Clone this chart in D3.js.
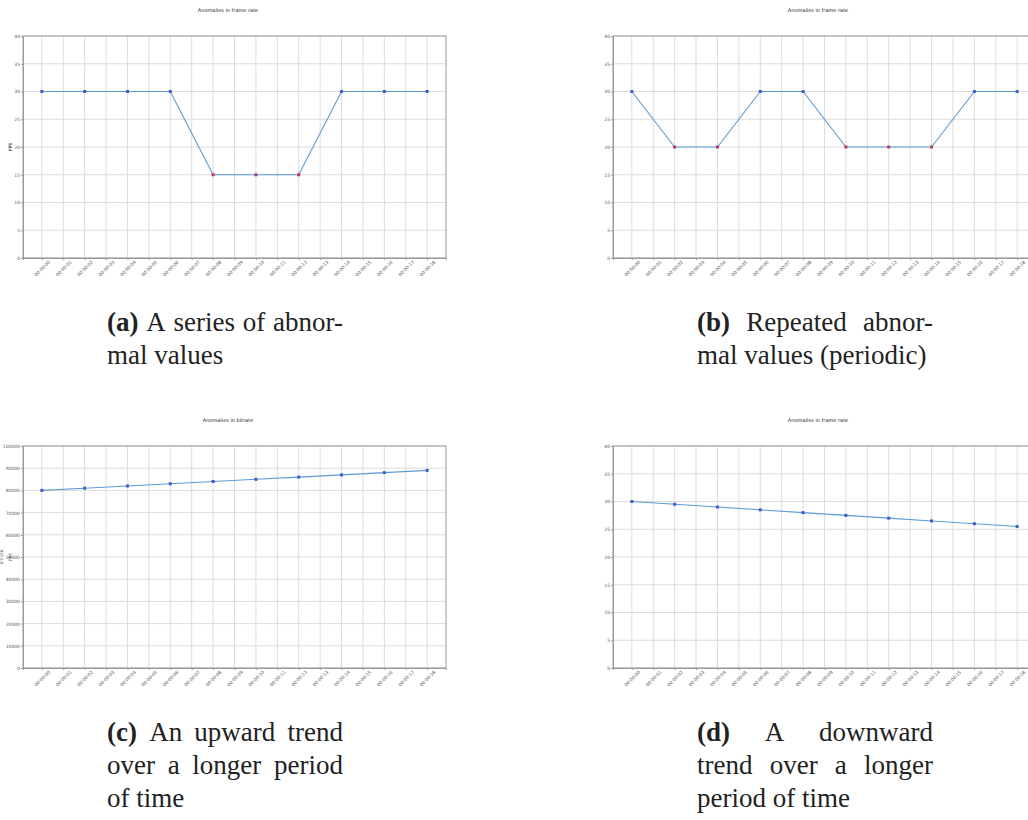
<!DOCTYPE html>
<html>
<head>
<meta charset="utf-8">
<script src="https://cdn.jsdelivr.net/npm/d3@7"></script>
<style>
  html, body { margin: 0; padding: 0; background: #fff; }
  svg { display: block; }
  .small-text { opacity: 0.995; }
</style>
</head>
<body>
<svg id="chart" width="1028" height="820"></svg>
<script>
// ---------------- DATA ----------------
const timeLabels = ["00:00:00","00:00:01","00:00:02","00:00:03","00:00:04","00:00:05","00:00:06",
  "00:00:07","00:00:08","00:00:09","00:00:10","00:00:11","00:00:12","00:00:13","00:00:14",
  "00:00:15","00:00:16","00:00:17","00:00:18"];
const sampleTimes = ["00:00:00","00:00:02","00:00:04","00:00:06","00:00:08",
  "00:00:10","00:00:12","00:00:14","00:00:16","00:00:18"];

const fpsSeriesA = [30, 30, 30, 30, 15, 15, 15, 30, 30, 30];
const anomalyA   = [0, 0, 0, 0, 1, 1, 1, 0, 0, 0];

const fpsSeriesB = [30, 20, 20, 30, 30, 20, 20, 20, 30, 30];
const anomalyB   = [0, 1, 1, 0, 0, 1, 1, 1, 0, 0];

const bitrateSeriesC = [80000, 81000, 82000, 83000, 84000, 85000, 86000, 87000, 88000, 89000];
const anomalyC       = [0, 0, 0, 0, 0, 0, 0, 0, 0, 0];

const fpsSeriesD = [30, 29.5, 29, 28.5, 28, 27.5, 27, 26.5, 26, 25.5];
const anomalyD   = [0, 0, 0, 0, 0, 0, 0, 0, 0, 0];

const fpsTicks = [0, 5, 10, 15, 20, 25, 30, 35, 40];
const bitrateTicks = [0, 10000, 20000, 30000, 40000, 50000, 60000, 70000, 80000, 90000, 100000];

const titles = ["Anomalies in frame rate", "Anomalies in frame rate", "Anomalies in bitrate", "Anomalies in frame rate"];
const yLabels = ["FPS", "FPS", "bitrate", "FPS"];

const captionA = [["(a)", "A series of abnor-"], ["", "mal values"]];
const captionB = [["(b)", "Repeated abnor-"], ["", "mal values (periodic)"]];
const captionC = [["(c)", "An upward trend"], ["", "over a longer period"], ["", "of time"]];
const captionD = [["(d)", "A downward"], ["", "trend over a longer"], ["", "period of time"]];

// ---------------- LAYOUT ----------------
const svg = d3.select("#chart");
const PW = 423, PH = 222;
const panels = [
  {left: 23,  top: 36,  values: fpsSeriesA, anomalies: anomalyA, ticks: fpsTicks, domain: [0, 40], title: titles[0], ylab: yLabels[0], ylabX: 12, caption: captionA},
  {left: 613, top: 36,  values: fpsSeriesB, anomalies: anomalyB, ticks: fpsTicks, domain: [0, 40], title: titles[1], ylab: yLabels[1], ylabX: 12, caption: captionB},
  {left: 23,  top: 446, values: bitrateSeriesC, anomalies: anomalyC, ticks: bitrateTicks, domain: [0, 100000], title: titles[2], ylab: yLabels[2], ylabX: 3, caption: captionC},
  {left: 613, top: 446, values: fpsSeriesD, anomalies: anomalyD, ticks: fpsTicks, domain: [0, 40], title: titles[3], ylab: yLabels[3], ylabX: 12, caption: captionD}
];

const gridColor = "#dcdcdc";
const axisColor = "#9a9a9a";
const lineColor = "#5b9bd5";
const normalColor = "#3f5fc8";
const anomalyColor = "#c2375c";
const tickFont = "DejaVu Sans, sans-serif";

panels.forEach(p => {
  const g = svg.append("g").attr("transform", `translate(${p.left},${p.top})`);
  const x = d3.scalePoint().domain(timeLabels).range([0, PW]).padding(0.88);
  const y = d3.scaleLinear().domain(p.domain).range([PH, 0]);

  g.append("text")
    .attr("class", "small-text")
    .attr("x", 205).attr("y", -24)
    .attr("text-anchor", "middle")
    .attr("font-family", tickFont).attr("font-size", 5)
    .attr("fill", "#222")
    .text(p.title);

  g.append("g").selectAll("line").data(timeLabels).join("line")
    .attr("x1", d => x(d)).attr("x2", d => x(d))
    .attr("y1", 0).attr("y2", PH)
    .attr("stroke", gridColor).attr("stroke-width", 1);
  g.append("g").selectAll("line").data(p.ticks).join("line")
    .attr("x1", 0).attr("x2", PW)
    .attr("y1", d => y(d)).attr("y2", d => y(d))
    .attr("stroke", gridColor).attr("stroke-width", 1);

  g.append("rect").attr("x", 0).attr("y", 0).attr("width", PW).attr("height", PH)
    .attr("fill", "none").attr("stroke", axisColor).attr("stroke-width", 1);

  const ya = g.append("g").attr("class", "small-text")
    .call(d3.axisLeft(y).tickValues(p.ticks).tickSize(2).tickPadding(1).tickFormat(d3.format("d")));
  ya.select(".domain").attr("stroke", axisColor);
  ya.selectAll(".tick line").attr("stroke", axisColor);
  ya.selectAll("text").attr("font-size", 4.5).attr("font-family", tickFont).attr("fill", "#555");

  const xa = g.append("g").attr("class", "small-text").attr("transform", `translate(0,${PH})`)
    .call(d3.axisBottom(x).tickSize(2).tickFormat(""));
  xa.select(".domain").attr("stroke", axisColor);
  xa.selectAll(".tick line").attr("stroke", axisColor);
  xa.selectAll(".tick").append("text")
    .attr("transform", "translate(0,10.5) rotate(-45)")
    .attr("text-anchor", "middle")
    .attr("dominant-baseline", "central")
    .attr("font-size", 4.5).attr("font-family", tickFont).attr("fill", "#555")
    .text(d => d);

  svg.append("text")
    .attr("class", "small-text")
    .attr("transform", `translate(${p.ylabX},${p.top + PH / 2}) rotate(-90)`)
    .attr("text-anchor", "middle")
    .attr("font-size", 4.5).attr("font-family", tickFont).attr("fill", "#555")
    .text(p.ylab);

  const pts = sampleTimes.map((t, i) => ({t, v: p.values[i], a: p.anomalies[i]}));
  g.append("path").datum(pts)
    .attr("fill", "none").attr("stroke", lineColor).attr("stroke-width", 1.1)
    .attr("d", d3.line().x(d => x(d.t)).y(d => y(d.v)));

  g.append("g").selectAll("rect").data(pts).join("rect")
    .attr("x", d => x(d.t) - 1.5).attr("y", d => y(d.v) - 1.5)
    .attr("width", 3).attr("height", 3)
    .attr("fill", d => d.a ? anomalyColor : normalColor);
});

// ---------------- CAPTIONS ----------------
const capFont = "Liberation Serif, Times New Roman, serif";
const capSize = 27;
const capWidth = 236;
const lineGap = 33;
function drawCaption(lines, x0, y0) {
  lines.forEach((ln, li) => {
    const isLast = li === lines.length - 1;
    const words = [];
    if (ln[0]) words.push({w: ln[0], bold: true});
    ln[1].split(" ").forEach(w => words.push({w, bold: false}));
    const t = svg.append("text")
      .attr("font-family", capFont).attr("font-size", capSize).attr("fill", "#222")
      .attr("y", y0 + li * lineGap);
    const spans = words.map(wd => t.append("tspan")
      .attr("font-weight", wd.bold ? "bold" : "normal").text(wd.w));
    const widths = spans.map(s => s.node().getComputedTextLength());
    const total = d3.sum(widths);
    const naturalSpace = capSize * 0.25;
    const gap = isLast ? naturalSpace : Math.max(naturalSpace * 0.6, (capWidth - total) / (words.length - 1));
    let cx = x0;
    spans.forEach((s, i) => { s.attr("x", cx); cx += widths[i] + gap; });
  });
}
drawCaption(captionA, 107, 331);
drawCaption(captionB, 697, 331);
drawCaption(captionC, 107, 741);
drawCaption(captionD, 697, 741);
</script>
</body>
</html>
